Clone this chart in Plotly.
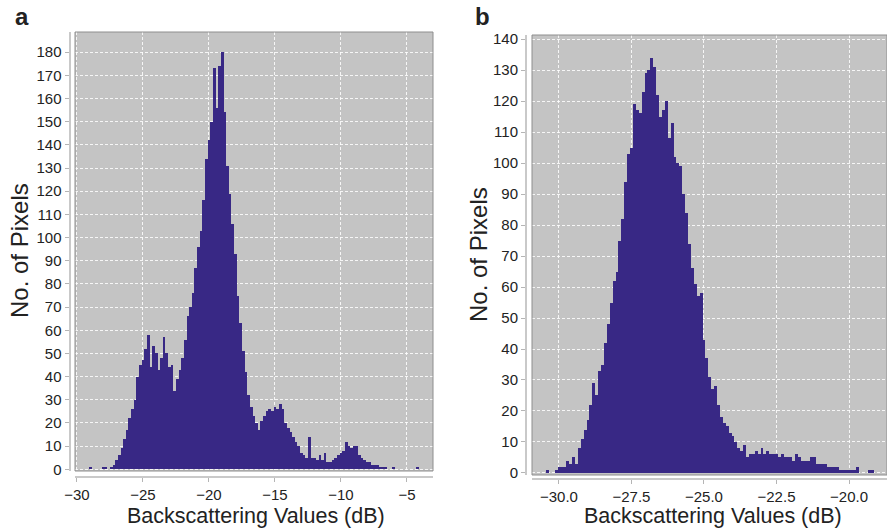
import plotly.graph_objects as go

# panel a: counts per 0.2 dB bin, first bin centred at -29.0 dB
start_a = -29.0
step_a = 0.2
counts_a = [
    1, 0, 0, 0, 0, 1, 1, 0, 1, 2,
    4, 6, 9, 13, 17, 22, 26, 30, 40, 45,
    47, 52, 58, 44, 53, 50, 43, 48, 57, 50,
    44, 45, 34, 39, 43, 48, 56, 66, 70, 76,
    87, 96, 103, 116, 134, 142, 150, 173, 156, 174,
    180, 154, 131, 119, 106, 93, 75, 63, 51, 42,
    32, 27, 23, 20, 17, 21, 23, 25, 26, 25,
    27, 26, 28, 26, 20, 18, 16, 14, 12, 10,
    7, 6, 5, 14, 5, 5, 4, 6, 4, 7,
    3, 3, 4, 5, 6, 7, 8, 12, 10, 9,
    10, 10, 6, 5, 4, 3, 3, 2, 2, 2,
    1, 1, 1, 0, 0, 1, 0, 0, 0, 0,
    0, 0, 0, 0, 1,
]

# panel b: counts per 0.1 dB bin, first bin centred at -30.5 dB
start_b = -30.5
step_b = 0.1
counts_b = [
    0, 1, 0, 0, 1, 2, 2, 2, 4, 3,
    5, 3, 8, 11, 14, 17, 22, 29, 25, 33,
    35, 42, 48, 55, 62, 65, 75, 82, 94, 103,
    105, 119, 117, 116, 123, 129, 130, 134, 131, 122,
    115, 117, 120, 108, 113, 102, 100, 99, 90, 84,
    74, 66, 61, 57, 58, 43, 37, 31, 27, 28,
    22, 18, 16, 15, 13, 12, 10, 8, 7, 9,
    5, 6, 6, 7, 6, 8, 6, 7, 6, 6,
    6, 5, 6, 5, 5, 5, 4, 6, 5, 4,
    4, 4, 5, 5, 3, 3, 3, 3, 2, 2,
    2, 2, 1, 1, 1, 1, 1, 1, 2, 0,
    0, 0, 1, 1,
]

BAR = "rgb(56,40,133)"
FONT = "Liberation Sans, Arial, sans-serif"

fig = go.Figure()
fig.add_trace(go.Bar(x0=start_a, dx=step_a, y=counts_a, width=step_a,
                     marker=dict(color=BAR, line=dict(width=0)),
                     xaxis="x", yaxis="y", showlegend=False, hoverinfo="skip"))
fig.add_trace(go.Bar(x0=start_b, dx=step_b, y=counts_b, width=step_b,
                     marker=dict(color=BAR, line=dict(width=0)),
                     xaxis="x2", yaxis="y2", showlegend=False, hoverinfo="skip"))

W, H = 887, 532

def px(x):
    return x / W

def py(y):
    return (H - y) / H

common = dict(showline=True, linecolor="#c9c9c9", linewidth=2,
              ticks="outside", ticklen=4, tickcolor="#b5b5b5", tickwidth=1,
              showgrid=True, gridcolor="rgba(255,255,255,0.85)", gridwidth=1,
              griddash="3px,2px", zeroline=False, automargin=False,
              tickfont=dict(family=FONT, size=15, color="#222"))

fig.update_layout(
    width=W, height=H,
    margin=dict(l=0, r=0, t=0, b=0, autoexpand=False),
    paper_bgcolor="white",
    plot_bgcolor="#c4c4c4",
    bargap=0,
    font=dict(family=FONT, color="#222"),
    xaxis=dict(domain=[px(75), px(433)], range=[-30.15, -3.03],
               anchor="free", position=py(477), dtick=5, **common),
    yaxis=dict(domain=[py(471), py(32)], range=[-0.73, 188.7],
               anchor="free", position=px(69.5), dtick=10, **common),
    xaxis2=dict(domain=[px(532), 1.0], range=[-30.93, -18.69],
                anchor="free", position=py(479), dtick=2.5, tickformat=".1f",
                **common),
    yaxis2=dict(domain=[py(475), py(35)], range=[-0.65, 141.3],
                anchor="free", position=px(526), dtick=10, **common),
)

# plot-area borders
for xr, yr in (("x", "y"), ("x2", "y2")):
    fig.add_shape(type="rect", xref=xr + " domain", yref=yr + " domain",
                  x0=0, x1=1, y0=0, y1=1, line=dict(color="#8e8e8e", width=1),
                  layer="above")

annots = [
    dict(x=px(22), y=py(17), text="<b>a</b>", font=dict(size=24)),
    dict(x=px(482), y=py(16), text="<b>b</b>", font=dict(size=24)),
    dict(x=px(256), y=py(516), text="Backscattering Values (dB)", font=dict(size=21.5)),
    dict(x=px(713), y=py(516), text="Backscattering Values (dB)", font=dict(size=21.5)),
    dict(x=px(20), y=py(251), text="No. of Pixels", textangle=-90, font=dict(size=24)),
    dict(x=px(478), y=py(255), text="No. of Pixels", textangle=-90, font=dict(size=24)),
]
for a in annots:
    fig.add_annotation(xref="paper", yref="paper", showarrow=False,
                       xanchor="center", yanchor="middle", **a)

# drop the browser's default page margin so the figure sits at 0,0
fig.write_html("out.html", config={"displayModeBar": False},
               post_script="document.body.style.margin='0';")
